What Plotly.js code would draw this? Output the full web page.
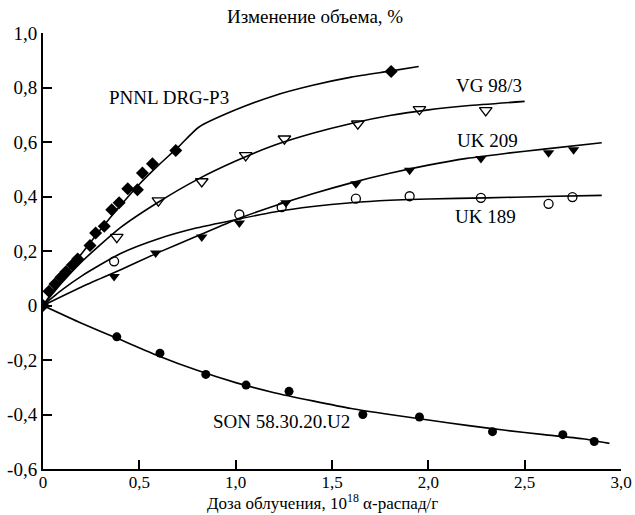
<!DOCTYPE html>
<html>
<head>
<meta charset="utf-8">
<script src="https://cdn.plot.ly/plotly-3.0.1.min.js"></script>
<style>html,body{margin:0;padding:0;background:#fff;}#chart{width:635px;height:515px;}</style>
</head>
<body>
<div id="chart"></div>
<script>
// ---- measured points ----
const pnnlX = [0, 0.031, 0.062, 0.093, 0.119, 0.152, 0.180, 0.244, 0.273, 0.318, 0.357, 0.395, 0.44, 0.49, 0.516, 0.568, 0.689, 1.807];
const pnnlY = [0, 0.052, 0.079, 0.104, 0.124, 0.149, 0.171, 0.220, 0.266, 0.291, 0.351, 0.377, 0.428, 0.425, 0.486, 0.520, 0.569, 0.859];

const vgX = [0.383, 0.599, 0.824, 1.052, 1.253, 1.634, 1.954, 2.298];
const vgY = [0.251, 0.385, 0.455, 0.551, 0.612, 0.667, 0.720, 0.716];

const uk209X = [0.369, 0.585, 0.824, 1.019, 1.261, 1.624, 1.903, 2.273, 2.624, 2.754];
const uk209Y = [0.106, 0.193, 0.251, 0.303, 0.377, 0.447, 0.496, 0.539, 0.561, 0.572];

const uk189X = [0.369, 1.019, 1.239, 1.624, 1.903, 2.273, 2.624, 2.748];
const uk189Y = [0.162, 0.334, 0.361, 0.392, 0.401, 0.395, 0.373, 0.398];

const sonX = [0.383, 0.607, 0.845, 1.054, 1.277, 1.66, 1.954, 2.333, 2.698, 2.861];
const sonY = [-0.115, -0.175, -0.253, -0.292, -0.315, -0.400, -0.409, -0.463, -0.474, -0.499];

// ---- fitted curves ----
const pnnlFitX = [0, 0.1, 0.2, 0.3, 0.4, 0.5, 0.6, 0.7, 0.81, 1.0, 1.2, 1.4, 1.6, 1.8, 1.95];
const pnnlFitY = [0, 0.100, 0.190, 0.280, 0.365, 0.445, 0.515, 0.580, 0.655, 0.718, 0.770, 0.808, 0.838, 0.860, 0.877];

const vgFitX = [0, 0.1, 0.2, 0.4, 0.6, 0.8, 1.0, 1.2, 1.4, 1.6, 1.8, 2.0, 2.2, 2.5];
const vgFitY = [0, 0.085, 0.160, 0.285, 0.380, 0.462, 0.530, 0.588, 0.632, 0.668, 0.697, 0.718, 0.733, 0.749];

const uk209FitX = [0, 0.2, 0.4, 0.6, 0.8, 1.0, 1.2, 1.4, 1.6, 1.8, 2.0, 2.2, 2.4, 2.6, 2.9];
const uk209FitY = [0, 0.068, 0.130, 0.195, 0.255, 0.315, 0.365, 0.410, 0.450, 0.485, 0.515, 0.540, 0.558, 0.574, 0.597];

const uk189FitX = [0, 0.1, 0.2, 0.4, 0.6, 0.8, 1.0, 1.2, 1.4, 1.6, 1.8, 2.0, 2.3, 2.6, 2.9];
const uk189FitY = [0, 0.058, 0.108, 0.190, 0.245, 0.285, 0.315, 0.343, 0.363, 0.377, 0.386, 0.391, 0.395, 0.400, 0.404];

const sonFitX = [0, 0.2, 0.4, 0.6, 0.8, 1.0, 1.2, 1.4, 1.6, 1.8, 2.0, 2.2, 2.4, 2.6, 2.8, 2.94];
const sonFitY = [0, -0.065, -0.125, -0.185, -0.238, -0.283, -0.320, -0.350, -0.378, -0.400, -0.420, -0.440, -0.458, -0.474, -0.489, -0.506];

// ---- labels and ticks ----
const seriesNames = ['PNNL DRG-P3', 'VG 98/3', 'UK 209', 'UK 189', 'SON 58.30.20.U2'];
const labelX = [0.654, 2.314, 2.308, 2.297, 1.236];
const labelY = [0.763, 0.808, 0.606, 0.327, -0.424];

const xTickVals = [0, 0.5, 1.0, 1.5, 2.0, 2.5, 3.0];
const xTickText = ['0', '0,5', '1,0', '1,5', '2,0', '2,5', '3,0'];
const yTickVals = [-0.6, -0.4, -0.2, 0, 0.2, 0.4, 0.6, 0.8, 1.0];
const yTickText = ['-0,6', '-0,4', '-0,2', '0', '0,2', '0,4', '0,6', '0,8', '1,0'];

const yTitle = 'Изменение объема, %';
const xTitle = 'Доза облучения, 10<sup>18</sup> α-распад/г';

const FONT = 'Liberation Serif';
const FS = 19;
const lineStyle = {color: '#000', width: 1.6, shape: 'spline', smoothing: 0.6};

function fit(x, y, name) {
  return {x: x, y: y, mode: 'lines', line: lineStyle, name: name, hoverinfo: 'skip', showlegend: false};
}
function pts(x, y, name, symbol, size) {
  return {
    x: x, y: y, mode: 'markers', name: name, showlegend: false,
    marker: {symbol: symbol, size: size, color: '#000', line: {color: '#000', width: 1.3}}
  };
}

const data = [
  fit(pnnlFitX, pnnlFitY, seriesNames[0]),
  fit(vgFitX, vgFitY, seriesNames[1]),
  fit(uk209FitX, uk209FitY, seriesNames[2]),
  fit(uk189FitX, uk189FitY, seriesNames[3]),
  fit(sonFitX, sonFitY, seriesNames[4]),
  pts(pnnlX, pnnlY, seriesNames[0], 'diamond', 10),
  pts(vgX, vgY, seriesNames[1], 'triangle-down-open', 11),
  pts(uk209X, uk209Y, seriesNames[2], 'triangle-down', 10),
  pts(uk189X, uk189Y, seriesNames[3], 'circle-open', 9),
  pts(sonX, sonY, seriesNames[4], 'circle', 9)
];
data[5].marker.line.width = 0;
data[7].marker.line.width = 0;
data[9].marker.line.width = 0;

const annotations = seriesNames.map((n, i) => ({
  x: labelX[i], y: labelY[i], xref: 'x', yref: 'y', text: n, showarrow: false,
  font: {family: FONT, size: FS, color: '#000'}
}));
annotations.push({
  x: 0.47, y: 1.0, xref: 'paper', yref: 'paper', yanchor: 'middle', yshift: 17,
  text: yTitle, showarrow: false,
  font: {family: FONT, size: FS, color: '#000'}
});
annotations.push({
  x: 0.483, y: 0, xref: 'paper', yref: 'paper', yanchor: 'bottom', yshift: -46,
  text: xTitle, showarrow: false,
  font: {family: FONT, size: 17, color: '#000'}
});

const layout = {
  width: 635, height: 515,
  margin: {l: 43, r: 14, t: 33, b: 46},
  paper_bgcolor: '#fff', plot_bgcolor: '#fff',
  font: {family: FONT, size: FS, color: '#000'},
  showlegend: false,
  xaxis: {
    range: [0, 3.0], tickvals: xTickVals, ticktext: xTickText,
    ticks: 'inside', ticklen: 9, tickwidth: 2, tickcolor: '#000',
    showline: true, linecolor: '#000', linewidth: 2, showgrid: false, zeroline: false,
    tickfont: {family: FONT, size: 17, color: '#000'}, ticklabelstandoff: -3,
    automargin: false
  },
  yaxis: {
    range: [-0.6, 1.0], tickvals: yTickVals, ticktext: yTickText,
    ticks: 'inside', ticklen: 9, tickwidth: 2, tickcolor: '#000',
    showline: true, linecolor: '#000', linewidth: 2, showgrid: false, zeroline: false,
    tickfont: {family: FONT, size: FS, color: '#000'},
    automargin: false
  },
  annotations: annotations
};

Plotly.newPlot('chart', data, layout, {staticPlot: true, displayModeBar: false});
</script>
</body>
</html>
